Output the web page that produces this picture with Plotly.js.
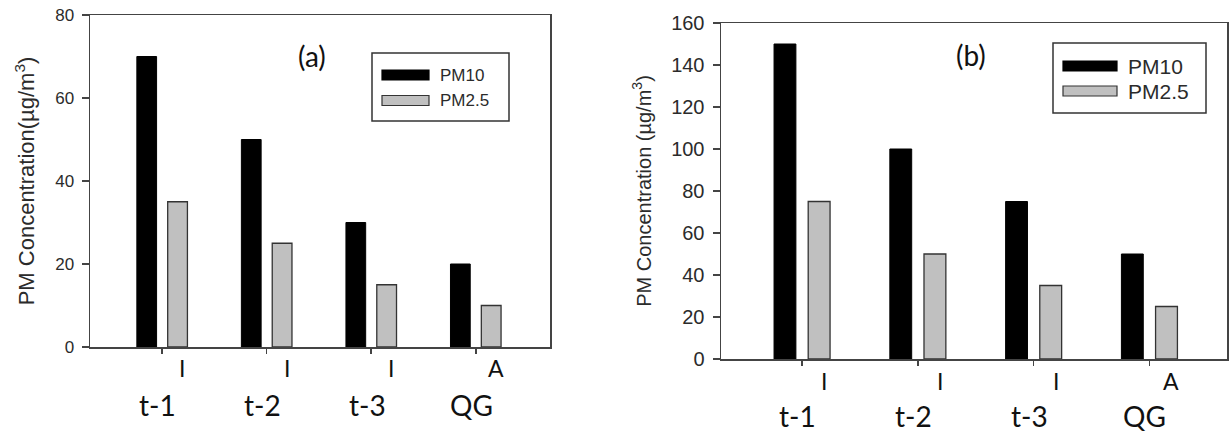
<!DOCTYPE html>
<html>
<head>
<meta charset="utf-8">
<script src="https://cdn.plot.ly/plotly-3.0.1.min.js"></script>
<style>html,body{margin:0;padding:0;background:#fff;}#chart{width:1229px;height:432px;}</style>
</head>
<body>
<div id="chart"></div>
<script>
// ---- data ----
const categories = ['t-1', 't-2', 't-3', 'QG'];
const subLabels = ['I', 'I', 'I', 'A'];
const seriesNames = ['PM10', 'PM2.5'];
const pm10A = [70, 50, 30, 20];
const pm25A = [35, 25, 15, 10];
const pm10B = [150, 100, 75, 50];
const pm25B = [75, 50, 35, 25];
const yTicksA = [0, 20, 40, 60, 80];
const yTicksB = [0, 20, 40, 60, 80, 100, 120, 140, 160];
const panelLabels = ['(a)', '(b)'];

// ---- layout helpers ----
const W = 1229, H = 432;
const px = v => v / W;
const py = v => 1 - v / H;

const blackFill = '#000000';
const grayFill = '#c0c0c0';
const edge = '#333333';
const axisCol = '#444444';
const txtCol = '#2b2b2b';
const armFont = 'Arial';
const calFont = 'Lato';

const idx = categories.map((c, i) => i);

const traces = [
  {type: 'bar', name: seriesNames[0], x: idx, y: pm10A, xaxis: 'x', yaxis: 'y',
   marker: {color: blackFill, line: {color: '#000', width: 1}}, showlegend: false, hoverinfo: 'skip'},
  {type: 'bar', name: seriesNames[1], x: idx, y: pm25A, xaxis: 'x', yaxis: 'y',
   marker: {color: grayFill, line: {color: edge, width: 1.3}}, showlegend: false, hoverinfo: 'skip'},
  {type: 'bar', name: seriesNames[0], x: idx, y: pm10B, xaxis: 'x2', yaxis: 'y2',
   marker: {color: blackFill, line: {color: '#000', width: 1}}, showlegend: false, hoverinfo: 'skip'},
  {type: 'bar', name: seriesNames[1], x: idx, y: pm25B, xaxis: 'x2', yaxis: 'y2',
   marker: {color: grayFill, line: {color: edge, width: 1.3}}, showlegend: false, hoverinfo: 'skip'}
];

function xAxis(domain, range) {
  return {
    domain: domain, range: range, type: 'linear',
    tickvals: idx, showticklabels: false,
    ticks: 'outside', ticklen: 5, tickwidth: 1.5, tickcolor: axisCol,
    showline: true, linecolor: axisCol, linewidth: 1.5, mirror: true,
    showgrid: false, zeroline: false, fixedrange: true
  };
}
function yAxis(domain, range, tickvals, fontSize, titleText, titleSize, standoff) {
  return {
    domain: domain, range: range, tickvals: tickvals,
    ticks: 'outside', ticklen: 7, tickwidth: 1.5, tickcolor: axisCol,
    ticklabelstandoff: 4,
    tickfont: {family: armFont, size: fontSize, color: txtCol},
    showline: true, linecolor: axisCol, linewidth: 1.5, mirror: true,
    showgrid: false, zeroline: false, fixedrange: true,
    title: {text: titleText, font: {family: armFont, size: titleSize, color: txtCol}, standoff: standoff}
  };
}

const annotations = [];
const shapes = [];

// x category labels (two rows) for both panels
function addXLabels(xref, row1Y, row2Y) {
  categories.forEach((c, i) => {
    annotations.push({xref: xref, yref: 'paper', x: i + 0.19, y: row1Y, text: subLabels[i],
      showarrow: false, xanchor: 'center', yanchor: 'middle',
      font: {family: calFont, size: 23, color: '#111'}});
    annotations.push({xref: xref, yref: 'paper', x: i - 0.04, y: row2Y, text: c,
      showarrow: false, xanchor: 'center', yanchor: 'middle',
      font: {family: calFont, size: 28, color: '#111'}});
  });
}
addXLabels('x', py(368), py(405));
addXLabels('x2', py(381), py(416));

// panel labels
annotations.push({xref: 'paper', yref: 'paper', x: px(312), y: py(56), text: panelLabels[0],
  showarrow: false, xanchor: 'center', yanchor: 'middle', font: {family: calFont, size: 28, color: '#111'}});
annotations.push({xref: 'paper', yref: 'paper', x: px(971), y: py(55), text: panelLabels[1],
  showarrow: false, xanchor: 'center', yanchor: 'middle', font: {family: calFont, size: 28, color: '#111'}});

// custom legends
function addLegend(box, sym, textX, rowY, symH, fontSize) {
  shapes.push({type: 'rect', xref: 'paper', yref: 'paper',
    x0: px(box[0]), x1: px(box[1]), y0: py(box[2]), y1: py(box[3]),
    line: {color: '#333', width: 1.5}, fillcolor: 'rgba(255,255,255,0)'});
  const fills = [blackFill, grayFill];
  const lines = ['#000', edge];
  seriesNames.forEach((n, i) => {
    shapes.push({type: 'rect', xref: 'paper', yref: 'paper',
      x0: px(sym[0]), x1: px(sym[1]), y0: py(rowY[i] - symH / 2), y1: py(rowY[i] + symH / 2),
      line: {color: lines[i], width: 1.2}, fillcolor: fills[i]});
    annotations.push({xref: 'paper', yref: 'paper', x: px(textX), y: py(rowY[i]), text: n,
      showarrow: false, xanchor: 'left', yanchor: 'middle',
      font: {family: armFont, size: fontSize, color: txtCol}});
  });
}
addLegend([372, 509, 53, 121], [382, 429], 438, [75, 100.5], 10, 17);
addLegend([1053, 1206, 43, 113], [1063, 1117], 1126, [66, 91], 10, 21);

const layout = {
  width: W, height: H,
  margin: {l: 0, r: 0, t: 0, b: 0},
  paper_bgcolor: '#ffffff', plot_bgcolor: '#ffffff',
  barmode: 'group', bargap: 0.41, bargroupgap: 0.36,
  showlegend: false,
  xaxis: xAxis([px(90), px(550)], [-0.69, 3.71]),
  yaxis: yAxis([py(347), py(15)], [0, 80], yTicksA, 17, 'PM Concentration(µg/m<sup>3</sup>)', 22, 14),
  xaxis2: xAxis([px(721), px(1227)], [-0.70, 3.67]),
  yaxis2: yAxis([py(359), py(23)], [0, 160], yTicksB, 20, 'PM Concentration (µg/m<sup>3</sup>)', 20, 14),
  annotations: annotations,
  shapes: shapes
};
layout.yaxis.anchor = 'x';
layout.xaxis.anchor = 'y';
layout.yaxis2.anchor = 'x2';
layout.xaxis2.anchor = 'y2';

Plotly.newPlot('chart', traces, layout, {displayModeBar: false, staticPlot: true});
</script>
</body>
</html>
